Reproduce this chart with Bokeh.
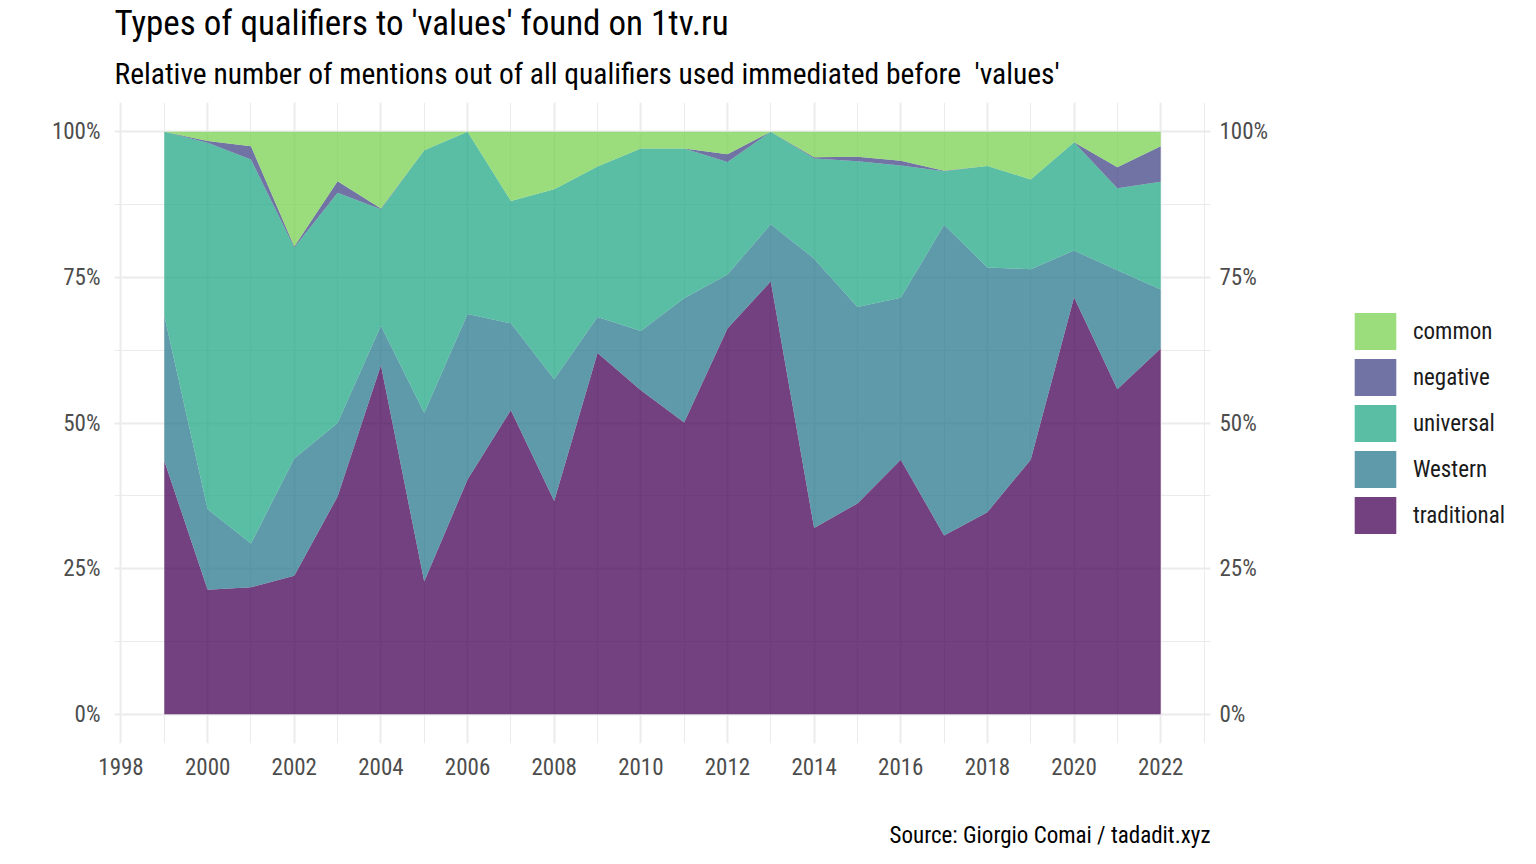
from bokeh.plotting import figure
from bokeh.models import (ColumnDataSource, Range1d, LinearAxis, SingleIntervalTicker,
                          PrintfTickFormatter, Legend, LegendItem, Title)
from bokeh.embed import file_html
from bokeh.resources import INLINE

years = list(range(1999, 2023))
traditional = [43.5, 21.4, 21.8, 23.8, 37.4, 59.9, 22.8, 40.3, 52.2, 36.6, 62.0, 55.6,
               50.1, 66.2, 74.3, 32.0, 36.2, 43.7, 30.7, 34.7, 43.7, 71.6, 55.8, 62.8]
western = [24.9, 13.8, 7.5, 20.1, 12.6, 6.8, 28.9, 28.4, 14.9, 20.9, 6.2, 10.2,
           21.3, 9.3, 9.8, 46.2, 33.7, 27.8, 53.3, 42.0, 32.7, 8.0, 20.4, 10.1]
universal = [31.6, 62.9, 65.9, 36.2, 39.5, 20.0, 45.1, 31.3, 21.0, 32.6, 25.8, 31.3,
             25.7, 19.3, 15.9, 17.2, 25.0, 22.7, 9.2, 17.4, 15.4, 18.6, 14.1, 18.5]
negative = [0.0, 0.3, 2.3, 0.2, 2.0, 0.1, 0.0, 0.0, 0.0, 0.0, 0.0, 0.0,
            0.0, 1.3, 0.0, 0.2, 0.8, 0.8, 0.1, 0.0, 0.0, 0.0, 3.6, 6.1]
common = [0.0, 1.6, 2.5, 19.7, 8.5, 13.2, 3.2, 0.0, 11.9, 9.9, 6.0, 2.9,
          2.9, 3.9, 0.0, 4.4, 4.3, 5.0, 6.7, 5.9, 8.2, 1.8, 6.1, 2.5]

series_names = ["traditional", "Western", "universal", "negative", "common"]
series_colors = ["#440154", "#2A788E", "#22A884", "#414487", "#7AD151"]

title_text = "Types of qualifiers to 'values' found on 1tv.ru"
subtitle_text = "Relative number of mentions out of all qualifiers used immediated before \u00a0'values'"
caption_text = "Source: Giorgio Comai / tadadit.xyz"

FONT = "Roboto Condensed, Liberation Sans Narrow, DejaVu Sans Condensed, Roboto"

src = ColumnDataSource(dict(year=years, traditional=traditional, Western=western,
                            universal=universal, negative=negative, common=common))

p = figure(frame_width=1096, frame_height=641,
           min_border_left=114, min_border_right=310,
           min_border_top=94, min_border_bottom=105,
           x_range=Range1d(1997.85, 2023.15), y_range=Range1d(-5, 105),
           output_backend="svg", toolbar_location=None, title=None)
p.outline_line_color = None
p.background_fill_color = "white"
p.border_fill_color = "white"

renderers = p.varea_stack(stackers=series_names, x="year", source=src,
                          color=series_colors, fill_alpha=0.75)

# axes
p.xaxis.ticker = SingleIntervalTicker(interval=2, num_minor_ticks=2)
p.yaxis.ticker = SingleIntervalTicker(interval=25, num_minor_ticks=2)
p.yaxis.formatter = PrintfTickFormatter(format="%d%%")
right_axis = LinearAxis(ticker=SingleIntervalTicker(interval=25, num_minor_ticks=2),
                        formatter=PrintfTickFormatter(format="%d%%"))
p.add_layout(right_axis, "right")

for ax in [p.xaxis[0], p.yaxis[0], right_axis]:
    ax.axis_line_color = None
    ax.major_tick_line_color = None
    ax.minor_tick_line_color = None
    ax.major_tick_out = 0
    ax.minor_tick_out = 0
    ax.major_tick_in = 0
    ax.minor_tick_in = 0
    ax.major_label_text_font = FONT
    ax.major_label_text_font_size = "23px"
    ax.major_label_text_color = "#4D4D4D"
p.xaxis[0].major_label_standoff = 14
p.yaxis[0].major_label_standoff = 14
right_axis.major_label_standoff = 9

# grid
p.xgrid.ticker = p.xaxis[0].ticker
p.ygrid.ticker = p.yaxis[0].ticker
for g in [p.xgrid[0], p.ygrid[0]]:
    g.grid_line_color = "#EBEBEB"
    g.grid_line_width = 2
    g.minor_grid_line_color = "#EBEBEB"
    g.minor_grid_line_width = 1

# legend (top to bottom: common ... traditional)
items = [LegendItem(label=n, renderers=[r]) for n, r in zip(series_names, renderers)][::-1]
legend = Legend(items=items, location=(-146, 205), glyph_width=52, glyph_height=46,
                label_height=46, spacing=0, padding=0, margin=0, label_standoff=12,
                border_line_color=None, background_fill_alpha=0,
                label_text_font=FONT, label_text_font_size="23px",
                label_text_color="#1A1A1A")
p.add_layout(legend, "right")

# titles
sub = Title(text=subtitle_text, text_font=FONT, text_font_size="29.5px",
            text_font_style="normal", text_color="#000000", align="left", standoff=23,
            text_line_height=1.0)
ttl = Title(text=title_text, text_font=FONT, text_font_size="35px",
            text_font_style="normal", text_color="#000000", align="left", standoff=0,
            text_line_height=0.9)
p.add_layout(sub, "above")
p.add_layout(ttl, "above")
cap = Title(text=caption_text, text_font=FONT, text_font_size="23px",
            text_font_style="normal", text_color="#000000", align="right", standoff=84)
p.add_layout(cap, "below")

open("out.html", "w").write(file_html(p, INLINE))
